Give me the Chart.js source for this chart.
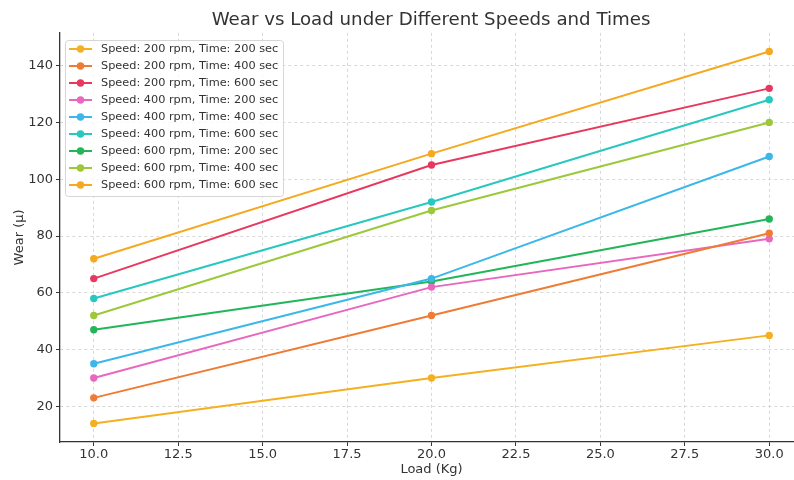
<!DOCTYPE html>
<html>
<head>
<meta charset="utf-8">
<script src="https://cdn.jsdelivr.net/npm/chart.js@4.4.1/dist/chart.umd.min.js"></script>
<style>
  html, body { margin: 0; padding: 0; background: #ffffff; overflow: hidden; }
  #wrap { width: 862px; height: 480px; }
</style>
</head>
<body>
<div id="wrap"><canvas id="c" width="862" height="480"></canvas></div>
<script>
const loads = [10, 20, 30];
const xTicks = [10, 12.5, 15, 17.5, 20, 22.5, 25, 27.5, 30];
const yTicks = [20, 40, 60, 80, 100, 120, 140];

const labels = [
  "Speed: 200 rpm, Time: 200 sec",
  "Speed: 200 rpm, Time: 400 sec",
  "Speed: 200 rpm, Time: 600 sec",
  "Speed: 400 rpm, Time: 200 sec",
  "Speed: 400 rpm, Time: 400 sec",
  "Speed: 400 rpm, Time: 600 sec",
  "Speed: 600 rpm, Time: 200 sec",
  "Speed: 600 rpm, Time: 400 sec",
  "Speed: 600 rpm, Time: 600 sec"
];
const s200t200 = [14, 30, 45];
const s200t400 = [23, 52, 81];
const s200t600 = [65, 105, 132];
const s400t200 = [30, 62, 79];
const s400t400 = [35, 65, 108];
const s400t600 = [58, 92, 128];
const s600t200 = [47, 64, 86];
const s600t400 = [52, 89, 120];
const s600t600 = [72, 109, 145];
const series = [s200t200, s200t400, s200t600, s400t200, s400t400, s400t600, s600t200, s600t400, s600t600];
const colors = ["#f4b020", "#ef7b34", "#e8385e", "#e868c0", "#3bb7ea", "#28c8c0", "#22b55a", "#9cc83a", "#f6a81e"];

const FONT = "'DejaVu Sans', sans-serif";

const datasets = series.map((vals, i) => ({
  label: labels[i],
  data: vals.map((v, j) => ({ x: loads[j], y: v })),
  borderColor: colors[i],
  backgroundColor: colors[i],
  pointBackgroundColor: colors[i],
  pointBorderColor: colors[i],
  borderWidth: 2,
  pointRadius: 3.7,
  pointBorderWidth: 0,
  tension: 0,
  fill: false
}));

const legendPlugin = {
  id: 'innerLegend',
  afterDatasetsDraw(chart) {
    const ctx = chart.ctx;
    const x0 = 65.5, y0 = 40.5, w = 218, h = 156;
    ctx.save();
    ctx.beginPath();
    if (ctx.roundRect) ctx.roundRect(x0, y0, w, h, 3); else ctx.rect(x0, y0, w, h);
    ctx.fillStyle = 'rgba(255,255,255,0.8)';
    ctx.fill();
    ctx.strokeStyle = '#d6d6d6';
    ctx.lineWidth = 1;
    ctx.stroke();
    ctx.font = "11.3px " + FONT;
    ctx.textBaseline = 'middle';
    ctx.textAlign = 'left';
    chart.data.datasets.forEach((ds, i) => {
      const y = 49 + i * 17;
      ctx.strokeStyle = ds.borderColor;
      ctx.lineWidth = 2;
      ctx.beginPath();
      ctx.moveTo(69, y);
      ctx.lineTo(92, y);
      ctx.stroke();
      ctx.fillStyle = ds.borderColor;
      ctx.beginPath();
      ctx.arc(80.5, y, 3.7, 0, Math.PI * 2);
      ctx.fill();
      ctx.fillStyle = '#333333';
      ctx.fillText(ds.label, 101, y + 0.5);
    });
    ctx.restore();
  }
};

new Chart(document.getElementById('c'), {
  type: 'line',
  data: { datasets },
  plugins: [legendPlugin],
  options: {
    responsive: false,
    animation: false,
    devicePixelRatio: 1,
    layout: { padding: { left: 0, right: 0, top: 0, bottom: 0 } },
    plugins: {
      legend: { display: false },
      tooltip: { enabled: false },
      title: {
        display: true,
        text: 'Wear vs Load under Different Speeds and Times',
        color: '#333333',
        font: { family: FONT, size: 18.2, weight: 'normal', lineHeight: 1.2 },
        padding: { top: 9, bottom: 2 }
      }
    },
    scales: {
      x: {
        type: 'linear',
        min: 9,
        max: 31,
        afterFit(scale) { scale.height = 38; },
        afterBuildTicks(scale) { scale.ticks = xTicks.map(v => ({ value: v })); },
        ticks: {
          color: '#333333',
          font: { family: FONT, size: 13 },
          padding: 1,
          maxRotation: 0,
          autoSkip: false,
          callback: v => Number(v).toFixed(1)
        },
        grid: {
          color: '#cfcfcf',
          lineWidth: 0.8,
          tickColor: '#333333',
          tickLength: 4,
          tickWidth: 1
        },
        border: { display: true, color: '#333333', width: 1.3, dash: [3, 3] },
        title: {
          display: true,
          text: 'Load (Kg)',
          color: '#333333',
          font: { family: FONT, size: 13 },
          padding: { top: 0, bottom: 3 }
        }
      },
      y: {
        type: 'linear',
        min: 7.45,
        max: 151.55,
        afterFit(scale) { scale.width = 60; },
        afterBuildTicks(scale) { scale.ticks = yTicks.map(v => ({ value: v })); },
        ticks: {
          color: '#333333',
          font: { family: FONT, size: 13 },
          padding: 3,
          autoSkip: false,
          callback: v => String(v)
        },
        grid: {
          color: '#cfcfcf',
          lineWidth: 0.8,
          tickColor: '#333333',
          tickLength: 4,
          tickWidth: 1
        },
        border: { display: true, color: '#333333', width: 1.3, dash: [3, 3] },
        title: {
          display: true,
          text: 'Wear (µ)',
          color: '#333333',
          font: { family: FONT, size: 13 },
          padding: { top: 12, bottom: 0 }
        }
      },
      yRightSpacer: {
        type: 'linear',
        position: 'right',
        min: 0,
        max: 1,
        afterFit(scale) { scale.width = 59; },
        ticks: { display: false },
        grid: { display: false, drawOnChartArea: false },
        border: { display: false },
        title: { display: false }
      }
    }
  }
});
</script>
</body>
</html>
